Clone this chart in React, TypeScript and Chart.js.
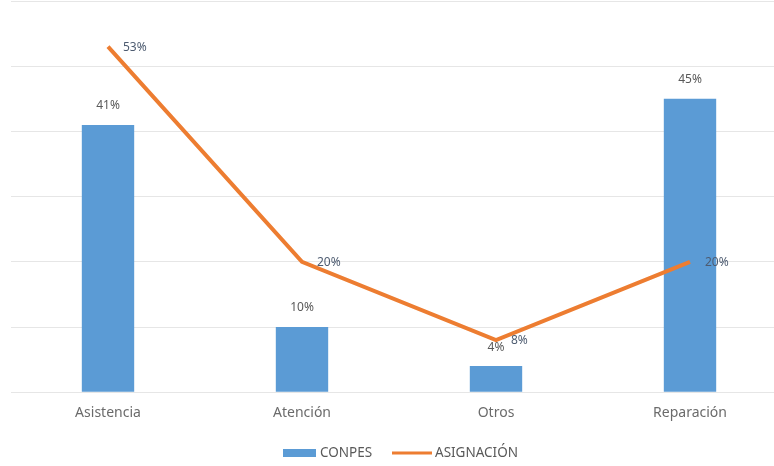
import React, { useEffect, useRef } from "react";
import { Chart, registerables } from "chart.js";

Chart.register(...registerables);

const categories = ["Asistencia", "Atención", "Otros", "Reparación"];
const conpes = [41, 10, 4, 45];
const asignacion = [53, 20, 8, 20];
const seriesNames = ["CONPES", "ASIGNACIÓN"];
const yMax = 60;

const FONT = "'Noto Sans', 'Liberation Sans', sans-serif";

const labelsPlugin = {
  id: "valueLabels",
  afterDatasetsDraw(chart: any) {
    const ctx = chart.ctx;
    ctx.save();
    ctx.font = `12px ${FONT}`;
    ctx.textBaseline = "middle";
    const barMeta = chart.getDatasetMeta(0);
    ctx.fillStyle = "#595959";
    ctx.textAlign = "center";
    barMeta.data.forEach((el: any, i: number) => {
      ctx.fillText(conpes[i] + "%", el.x, el.y - 19);
    });
    const lineMeta = chart.getDatasetMeta(1);
    ctx.fillStyle = "#4d5b70";
    ctx.textAlign = "left";
    lineMeta.data.forEach((el: any, i: number) => {
      ctx.fillText(asignacion[i] + "%", el.x + 15, el.y + 1);
    });
    ctx.restore();
  },
  afterDraw(chart: any) {
    const ctx = chart.ctx;
    ctx.save();
    ctx.font = `13.5px ${FONT}`;
    ctx.textBaseline = "middle";
    ctx.textAlign = "left";
    const y = 453;
    ctx.fillStyle = "#5B9BD5";
    ctx.fillRect(283, y - 4, 33, 8);
    ctx.fillStyle = "#595959";
    ctx.fillText(seriesNames[0], 320, y);
    ctx.strokeStyle = "#ED7D31";
    ctx.lineWidth = 3;
    ctx.beginPath();
    ctx.moveTo(392, y);
    ctx.lineTo(432, y);
    ctx.stroke();
    ctx.fillStyle = "#595959";
    ctx.fillText(seriesNames[1], 435, y);
    ctx.restore();
  },
};

export default function App() {
  const ref = useRef<HTMLCanvasElement | null>(null);
  useEffect(() => {
    if (!ref.current) return;
    const chart = new Chart(ref.current, {
      type: "bar",
      data: {
        labels: categories,
        datasets: [
          {
            type: "bar",
            label: seriesNames[0],
            data: conpes,
            backgroundColor: "#5B9BD5",
            barPercentage: 0.27,
            categoryPercentage: 1,
            order: 2,
          },
          {
            type: "line",
            label: seriesNames[1],
            data: asignacion,
            borderColor: "#ED7D31",
            borderWidth: 4,
            pointRadius: 0,
            tension: 0,
            order: 1,
          } as any,
        ],
      },
      options: {
        animation: false,
        responsive: false,
        layout: { padding: { left: 11, right: 13, top: 1, bottom: 33 } },
        plugins: { legend: { display: false }, tooltip: { enabled: false } },
        scales: {
          x: {
            grid: { display: false, drawTicks: false },
            border: { display: false },
            ticks: {
              padding: 12,
              color: "#6b6b6b",
              font: { family: FONT, size: 14 },
            },
          },
          y: {
            min: 0,
            max: yMax,
            ticks: { display: false, stepSize: 10 },
            grid: { color: "#e6e6e6", drawTicks: false, lineWidth: 1 },
            border: { display: false },
          },
        },
      },
      plugins: [labelsPlugin],
    });
    return () => chart.destroy();
  }, []);
  return (
    <div style={{ position: "fixed", left: 0, top: 0, width: 774, height: 466, overflow: "hidden", background: "#fff" }}>
      <canvas ref={ref} width={800} height={466} style={{ width: 800, height: 466, display: "block" }} />
    </div>
  );
}
